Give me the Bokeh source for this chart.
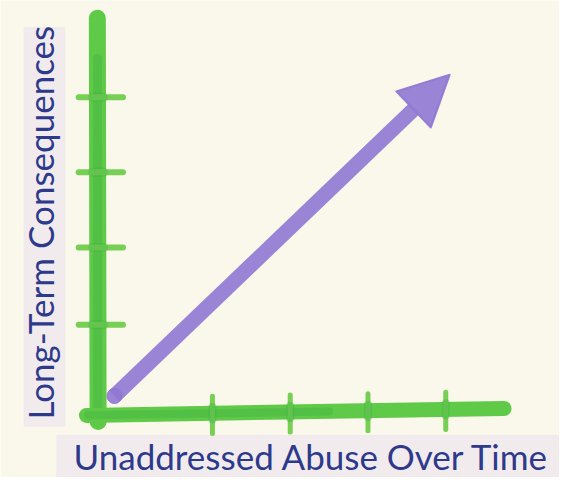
import math
from bokeh.plotting import figure
from bokeh.models import Arrow, NormalHead, Label, Range1d
from bokeh.embed import file_html
from bokeh.resources import INLINE

# ---- data (axis units: one tick step = 1) ----
x_axis_x = [-0.12, 5.25]          # horizontal axis extent
x_axis_y = [-0.01, 0.08]          # slight hand-drawn tilt
y_axis_x = [0.03, 0.02]
y_axis_y = [-0.09, 5.12]
x_ticks = [1.5, 2.5, 3.5, 4.5]
y_ticks = [1.16, 2.16, 3.13, 4.10]
arrow_start = (0.24, 0.24)
arrow_end = (4.55, 4.39)
x_title = "Unaddressed Abuse Over Time"
y_title = "Long-Term Consequences"

W, H = 559, 477

cream = "#f9f8ea"
green_light = "#5fc948"
green_dark = "#3fb142"
tick_green = "#78cf55"
purple = "#8f77d3"
text_color = "#2d3a8c"
lavender = "#ede2f0"

p = figure(width=W, height=H, output_backend="svg", toolbar_location=None,
           x_range=Range1d(-98 / 80, (575 - 98) / 80),
           y_range=Range1d((428 - 493) / 80, 428 / 80),
           min_border=0, background_fill_color=cream, border_fill_color=cream,
           outline_line_color=None)
p.axis.visible = False
p.grid.visible = False

# lavender washes behind the titles
p.quad(left=[-0.92], right=[-0.40], bottom=[-0.15], top=[5.0], color=lavender, alpha=0.6)
p.quad(left=[-0.50], right=[6.0], bottom=[-0.85], top=[-0.27], color=lavender, alpha=0.6)

# painted axes
p.line(y_axis_x, y_axis_y, line_width=17, color=green_light, line_cap="round")
p.line([0.025, 0.022], [-0.05, 4.6], line_width=9, color=green_dark, alpha=0.4, line_cap="round")
p.line(x_axis_x, x_axis_y, line_width=15, color=green_light, line_cap="round")
p.line([-0.1, 3.0], [-0.008, 0.04], line_width=8, color=green_dark, alpha=0.4, line_cap="round")

# tick strokes
for t in y_ticks:
    p.line([-0.22, 0.35], [t, t], line_width=6, color=tick_green, line_cap="round")
    p.line([-0.04, 0.10], [t, t], line_width=9, color=green_dark, alpha=0.35, line_cap="round")
for t in x_ticks:
    yc = x_axis_y[0] + (x_axis_y[1] - x_axis_y[0]) * (t - x_axis_x[0]) / (x_axis_x[1] - x_axis_x[0])
    p.line([t, t], [yc - 0.26, yc + 0.22], line_width=5, color=tick_green, line_cap="round")
    p.line([t, t], [yc - 0.08, yc + 0.08], line_width=8, color=green_dark, alpha=0.4, line_cap="round")

# purple arrow
p.scatter([arrow_start[0]], [arrow_start[1]], size=15, color=purple, alpha=0.9)
p.add_layout(Arrow(x_start=arrow_start[0], y_start=arrow_start[1],
                   x_end=arrow_end[0], y_end=arrow_end[1],
                   line_width=15, line_color=purple, line_alpha=0.9, line_cap="butt",
                   end=NormalHead(size=50, fill_color=purple, fill_alpha=0.9, line_color=purple,
                                  line_alpha=0.9, line_join="round", line_width=2)))

# titles
p.add_layout(Label(x=73, y=22, x_units="screen", y_units="screen", text=x_title,
                   text_font="Lato", text_font_size="35px", text_color=text_color,
                   text_baseline="alphabetic", text_align="left"))
p.add_layout(Label(x=39, y=58, x_units="screen", y_units="screen", text=y_title,
                   angle=math.pi / 2, text_font="Lato", text_font_size="35px",
                   text_color=text_color, text_baseline="alphabetic", text_align="left"))

open("out.html", "w").write(file_html(p, INLINE))
